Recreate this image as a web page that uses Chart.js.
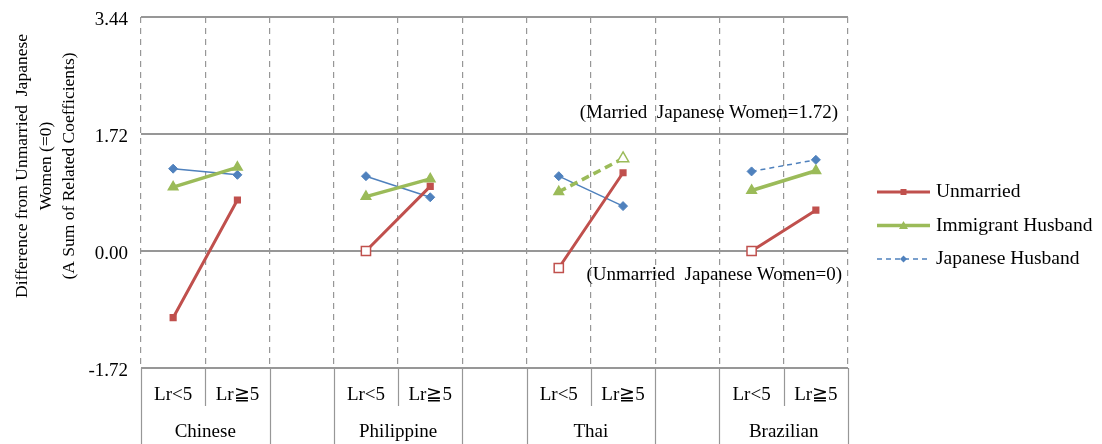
<!DOCTYPE html>
<html>
<head>
<meta charset="utf-8">
<script src="https://cdn.jsdelivr.net/npm/chart.js@4.4.1/dist/chart.umd.min.js"></script>
<style>
  html, body { margin: 0; padding: 0; background: #fff; }
  #wrap { width: 1102px; height: 444px; }
</style>
</head>
<body>
<div id="wrap"><canvas id="myChart"></canvas></div>
<script>
// categories: two length-of-residence classes per group, empty slot between groups
var groups = ['Chinese', 'Philippine', 'Thai', 'Brazilian'];
var categories = ['Lr<5', 'Lr≧5', '', 'Lr<5', 'Lr≧5', '', 'Lr<5', 'Lr≧5', '', 'Lr<5', 'Lr≧5'];
var yTicks = [-1.72, 0, 1.72, 3.44];

var unmarried = [-0.98, 0.75, null, 0.00, 0.95, null, -0.25, 1.15, null, 0.00, 0.60];
var immigrantHusband = [0.94, 1.23, null, 0.80, 1.06, null, 0.87, 1.36, null, 0.89, 1.18];
var japaneseHusband = [1.21, 1.12, null, 1.10, 0.79, null, 1.10, 0.66, null, 1.17, 1.34];

// points drawn hollow (not significant) and segments drawn dashed
var unmarriedHollow = [3, 6, 9];
var immigrantHollow = [7];
var immigrantDashed = [6];
var japaneseDashed = [9];

var RED = '#C0504D', GREEN = '#9BBB59', BLUE = '#4F81BD', GRID = '#979797';
var FONT = '"Liberation Serif", "Times New Roman", serif';

function fills(color, hollow) {
    return categories.map(function (c, i) { return hollow.indexOf(i) >= 0 ? '#ffffff' : color; });
}
function radii(r, rh, hollow) {
    return categories.map(function (c, i) { return hollow.indexOf(i) >= 0 ? rh : r; });
}

function drawMarker(ctx, style, x, y, r, color) {
    ctx.save();
    ctx.fillStyle = color;
    ctx.beginPath();
    if (style === 'rect') {
        ctx.rect(x - r, y - r, 2 * r, 2 * r);
    } else if (style === 'triangle') {
        ctx.moveTo(x, y - r);
        ctx.lineTo(x + r, y + r * 0.75);
        ctx.lineTo(x - r, y + r * 0.75);
        ctx.closePath();
    } else {
        ctx.moveTo(x, y - r);
        ctx.lineTo(x + r, y);
        ctx.lineTo(x, y + r);
        ctx.lineTo(x - r, y);
        ctx.closePath();
    }
    ctx.fill();
    ctx.restore();
}

var extras = {
    id: 'extras',
    afterDraw: function (chart) {
        var ctx = chart.ctx;
        var x = chart.scales.x, y = chart.scales.y;
        var area = chart.chartArea;
        var slot = (area.right - area.left) / categories.length;
        ctx.save();

        // lower category table
        ctx.strokeStyle = GRID;
        ctx.lineWidth = 1.2;
        for (var b = 0; b <= categories.length; b++) {
            var bx = Math.round(area.left + b * slot) + 0.5;
            var inner = (b % 3 === 1);
            ctx.beginPath();
            ctx.moveTo(bx, area.bottom);
            ctx.lineTo(bx, inner ? area.bottom + 38 : chart.height);
            ctx.stroke();
        }
        ctx.fillStyle = '#000';
        ctx.font = '19px ' + FONT;
        ctx.textAlign = 'center';
        ctx.textBaseline = 'middle';
        categories.forEach(function (c, i) {
            if (c) ctx.fillText(c, x.getPixelForValue(i), area.bottom + 27);
        });
        groups.forEach(function (g, k) {
            var cx = (x.getPixelForValue(k * 3) + x.getPixelForValue(k * 3 + 1)) / 2;
            ctx.fillText(g, cx, area.bottom + 64);
        });

        // reference notes
        ctx.textAlign = 'right';
        ctx.fillText('(Married  Japanese Women=1.72)', area.right - 10, y.getPixelForValue(1.72) - 21);
        ctx.fillText('(Unmarried  Japanese Women=0)', area.right - 6, y.getPixelForValue(0) + 24);

        // y axis title
        ctx.save();
        ctx.translate(0, 166);
        ctx.rotate(-Math.PI / 2);
        ctx.textAlign = 'center';
        ctx.font = '17.5px ' + FONT;
        ctx.fillText('Difference from Unmarried  Japanese', 0, 22);
        ctx.fillText('Women (=0)', 0, 46);
        ctx.fillText('(A Sum of Related Coefficients)', 0, 69);
        ctx.restore();

        // legend
        var items = [
            { label: 'Unmarried', color: RED, width: 3, dash: [], style: 'rect', r: 3 },
            { label: 'Immigrant Husband', color: GREEN, width: 3.5, dash: [], style: 'triangle', r: 4.5 },
            { label: 'Japanese Husband', color: BLUE, width: 1.5, dash: [5, 4], style: 'diamond', r: 3.5 }
        ];
        ctx.textAlign = 'left';
        ctx.font = '19.5px ' + FONT;
        items.forEach(function (it, k) {
            var ly = 192 + k * 33.5;
            ctx.save();
            ctx.strokeStyle = it.color;
            ctx.lineWidth = it.width;
            ctx.setLineDash(it.dash);
            ctx.beginPath();
            ctx.moveTo(877, ly);
            ctx.lineTo(930, ly);
            ctx.stroke();
            ctx.restore();
            drawMarker(ctx, it.style, 903.5, ly, it.r, it.color);
            ctx.fillStyle = '#000';
            ctx.fillText(it.label, 936, ly);
        });
        ctx.restore();
    }
};

var ctx = document.getElementById('myChart').getContext('2d');
var myChart = new Chart(ctx, {
    type: 'line',
    data: {
        labels: categories,
        datasets: [{
            label: 'Unmarried',
            data: unmarried,
            borderColor: RED,
            borderWidth: 3,
            pointStyle: 'rect',
            pointRadius: radii(4, 6.5, unmarriedHollow),
            pointBackgroundColor: fills(RED, unmarriedHollow),
            pointBorderColor: RED,
            pointBorderWidth: 1.5,
            tension: 0
        }, {
            label: 'Immigrant Husband',
            data: immigrantHusband,
            borderColor: GREEN,
            borderWidth: 3.5,
            pointStyle: 'triangle',
            pointRadius: radii(5.5, 6.5, immigrantHollow),
            pointBackgroundColor: fills(GREEN, immigrantHollow),
            pointBorderColor: GREEN,
            pointBorderWidth: 1.5,
            segment: {
                borderDash: function (s) { return immigrantDashed.indexOf(s.p0DataIndex) >= 0 ? [8, 5] : []; }
            },
            tension: 0
        }, {
            label: 'Japanese Husband',
            data: japaneseHusband,
            borderColor: BLUE,
            borderWidth: 1.5,
            pointStyle: 'rectRot',
            pointRadius: 4.5,
            pointBackgroundColor: BLUE,
            pointBorderColor: BLUE,
            pointBorderWidth: 1,
            segment: {
                borderDash: function (s) { return japaneseDashed.indexOf(s.p0DataIndex) >= 0 ? [5, 4] : []; }
            },
            tension: 0
        }]
    },
    options: {
        responsive: true,
        maintainAspectRatio: false,
        animation: false,
        spanGaps: false,
        layout: { padding: { top: 17, right: 254, bottom: 0, left: 0 } },
        plugins: {
            legend: { display: false },
            tooltip: { enabled: false }
        },
        scales: {
            x: {
                offset: true,
                grid: { offset: true, color: GRID, lineWidth: 1.2, drawTicks: false },
                border: { display: false, dash: [6, 5] },
                ticks: { display: false },
                afterFit: function (s) { s.height = 76; s.paddingLeft = 0; s.paddingRight = 0; }
            },
            y: {
                min: -1.72,
                max: 3.44,
                afterBuildTicks: function (s) { s.ticks = yTicks.map(function (v) { return { value: v }; }); },
                grid: { color: GRID, lineWidth: 2, drawTicks: false },
                border: { display: false },
                ticks: {
                    padding: 13,
                    labelOffset: 3,
                    color: '#000',
                    font: { family: FONT, size: 19 },
                    callback: function (v) { return Number(v).toFixed(2); }
                },
                afterFit: function (s) { s.width = 141; s.paddingTop = 0; s.paddingBottom = 0; }
            }
        }
    },
    plugins: [extras]
});
</script>
</body>
</html>
